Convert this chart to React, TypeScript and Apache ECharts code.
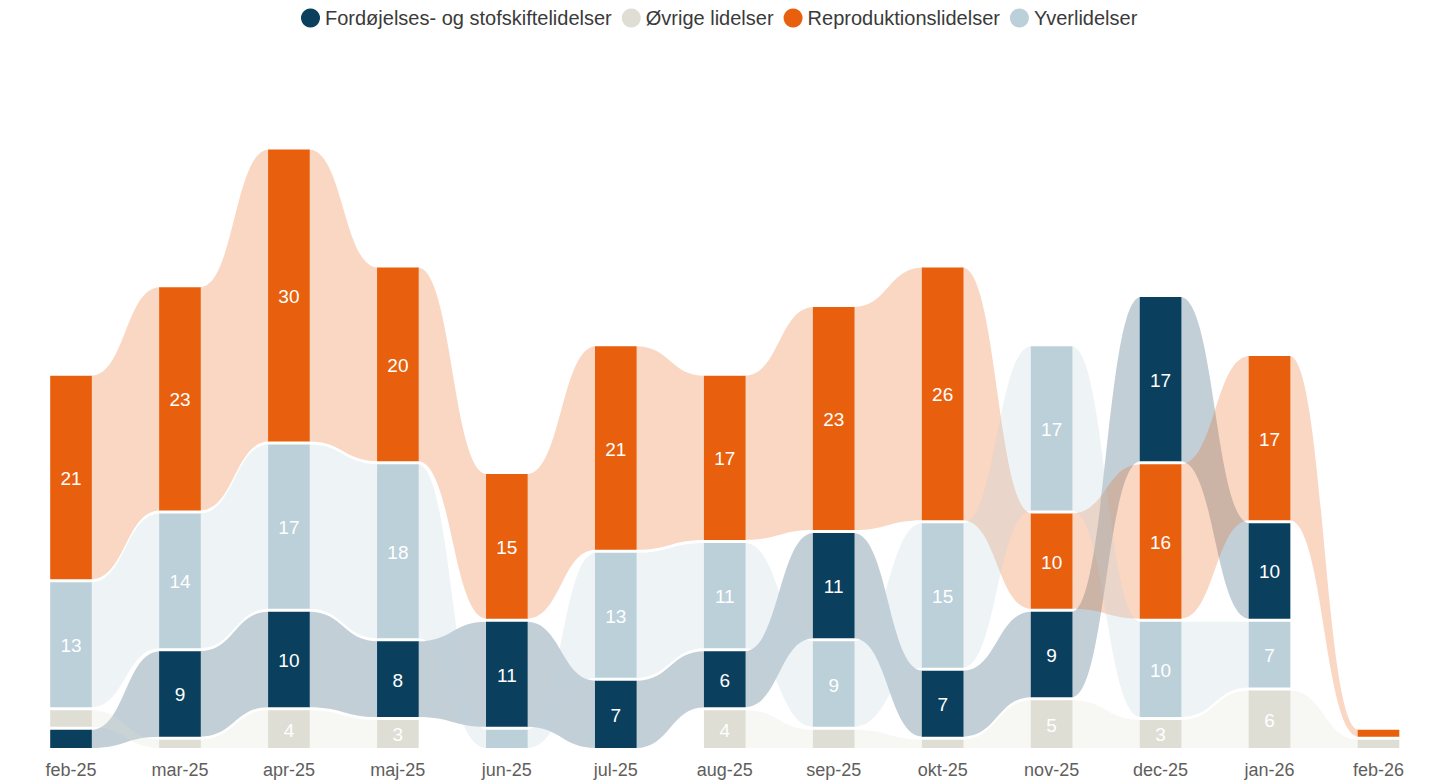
import React, { useEffect, useRef } from "react";
import * as echarts from "echarts";

const months = ["feb-25", "mar-25", "apr-25", "maj-25", "jun-25", "jul-25", "aug-25", "sep-25", "okt-25", "nov-25", "dec-25", "jan-26", "feb-26"];
const seriesNames = ["Fordøjelses- og stofskiftelidelser", "Øvrige lidelser", "Reproduktionslidelser", "Yverlidelser"];
const fordojelse = [2, 9, 10, 8, 11, 7, 6, 11, 7, 9, 17, 10, 0];
const ovrige = [2, 1, 4, 3, 0, 0, 4, 2, 1, 5, 3, 6, 1];
const reproduktion = [21, 23, 30, 20, 15, 21, 17, 23, 26, 10, 16, 17, 1];
const yver = [13, 14, 17, 18, 2, 13, 11, 9, 15, 17, 10, 7, 0];
// order used when two values in a month are equal (higher = placed higher)
const tiePriority = [0, 2, 3, 1];
const colors = ["#0A3F5E", "#DEDED4", "#E8600E", "#BCD0DA"];

const values = [fordojelse, ovrige, reproduktion, yver];
const FONT = "'Liberation Sans', Arial, sans-serif";

// ranked stacking per month: smallest at bottom, largest on top
const lows: number[][] = values.map(() => []);
const highs: number[][] = values.map(() => []);
months.forEach((_, i) => {
  const order = values
    .map((_, s) => s)
    .sort((a, b) => values[a][i] - values[b][i] || tiePriority[a] - tiePriority[b]);
  let acc = 0;
  order.forEach((s) => {
    lows[s][i] = acc;
    acc += values[s][i];
    highs[s][i] = acc;
  });
});

export default function App() {
  const ref = useRef<HTMLDivElement>(null);
  useEffect(() => {
    if (!ref.current) return;
    const chart = echarts.init(ref.current, undefined, { renderer: "svg" });
    const gap = 1.5;
    const series = seriesNames.map((name, s) => ({
      name,
      type: "custom",
      itemStyle: { color: colors[s] },
      encode: { x: 0, y: [1, 2] },
      data: months.map((_, i) => [i, lows[s][i], highs[s][i], values[s][i]]),
      renderItem: (params: any, api: any) => {
        const i = api.value(0);
        const lo = api.value(1);
        const hi = api.value(2);
        const v = api.value(3);
        if (!v) return null;
        const bw = api.size([1, 0])[0] * 0.382;
        const pLo = api.coord([i, lo]);
        const pHi = api.coord([i, hi]);
        const top = pHi[1] + gap;
        const bot = lo === 0 ? pLo[1] : pLo[1] - gap;
        const children: any[] = [];
        if (i + 1 < months.length && values[s][i + 1] > 0) {
          const nLo = lows[s][i + 1];
          const nHi = highs[s][i + 1];
          const qLo = api.coord([i + 1, nLo]);
          const qHi = api.coord([i + 1, nHi]);
          const t2 = qHi[1] + gap;
          const b2 = nLo === 0 ? qLo[1] : qLo[1] - gap;
          const x1 = pLo[0] + bw / 2 - 1;
          const x2 = qLo[0] - bw / 2 + 1;
          const xm = (x1 + x2) / 2;
          const d = `M${x1} ${top} C${xm} ${top} ${xm} ${t2} ${x2} ${t2} L${x2} ${b2} C${xm} ${b2} ${xm} ${bot} ${x1} ${bot} Z`;
          children.push({
            type: "path",
            shape: { pathData: d },
            style: { fill: colors[s], opacity: 0.25 },
            z2: 1,
          });
        }
        children.push({
          type: "rect",
          shape: { x: pLo[0] - bw / 2, y: top, width: bw, height: bot - top },
          style: { fill: colors[s] },
          z2: 10,
        });
        if (v >= 3) {
          children.push({
            type: "text",
            x: pLo[0],
            y: (top + bot) / 2 + 1,
            style: {
              text: String(v),
              fill: "#ffffff",
              fontSize: 19,
              fontFamily: FONT,
              align: "center",
              verticalAlign: "middle",
            },
            z2: 20,
          });
        }
        return { type: "group", children };
      },
    }));
    chart.setOption({
      animation: false,
      backgroundColor: "#ffffff",
      legend: {
        data: seriesNames,
        left: 296,
        top: 3,
        icon: "circle",
        itemWidth: 19,
        itemHeight: 19,
        itemGap: 10,
        textStyle: { fontSize: 20, color: "#3A3A3A", fontFamily: FONT },
      },
      grid: { left: 71, right: 51.5, top: 148, bottom: 35 },
      xAxis: {
        type: "category",
        data: months,
        boundaryGap: false,
        axisLine: { show: false },
        axisTick: { show: false },
        splitLine: { show: false },
        axisLabel: { color: "#605E5C", fontSize: 18, fontFamily: FONT, margin: 13 },
      },
      yAxis: {
        type: "value",
        min: 0,
        max: 61,
        show: false,
        splitLine: { show: false },
      },
      series,
    });
    return () => chart.dispose();
  }, []);
  return (
    <div
      ref={ref}
      style={{ position: "fixed", left: 0, top: 0, width: 1430, height: 783, background: "#fff" }}
    />
  );
}
